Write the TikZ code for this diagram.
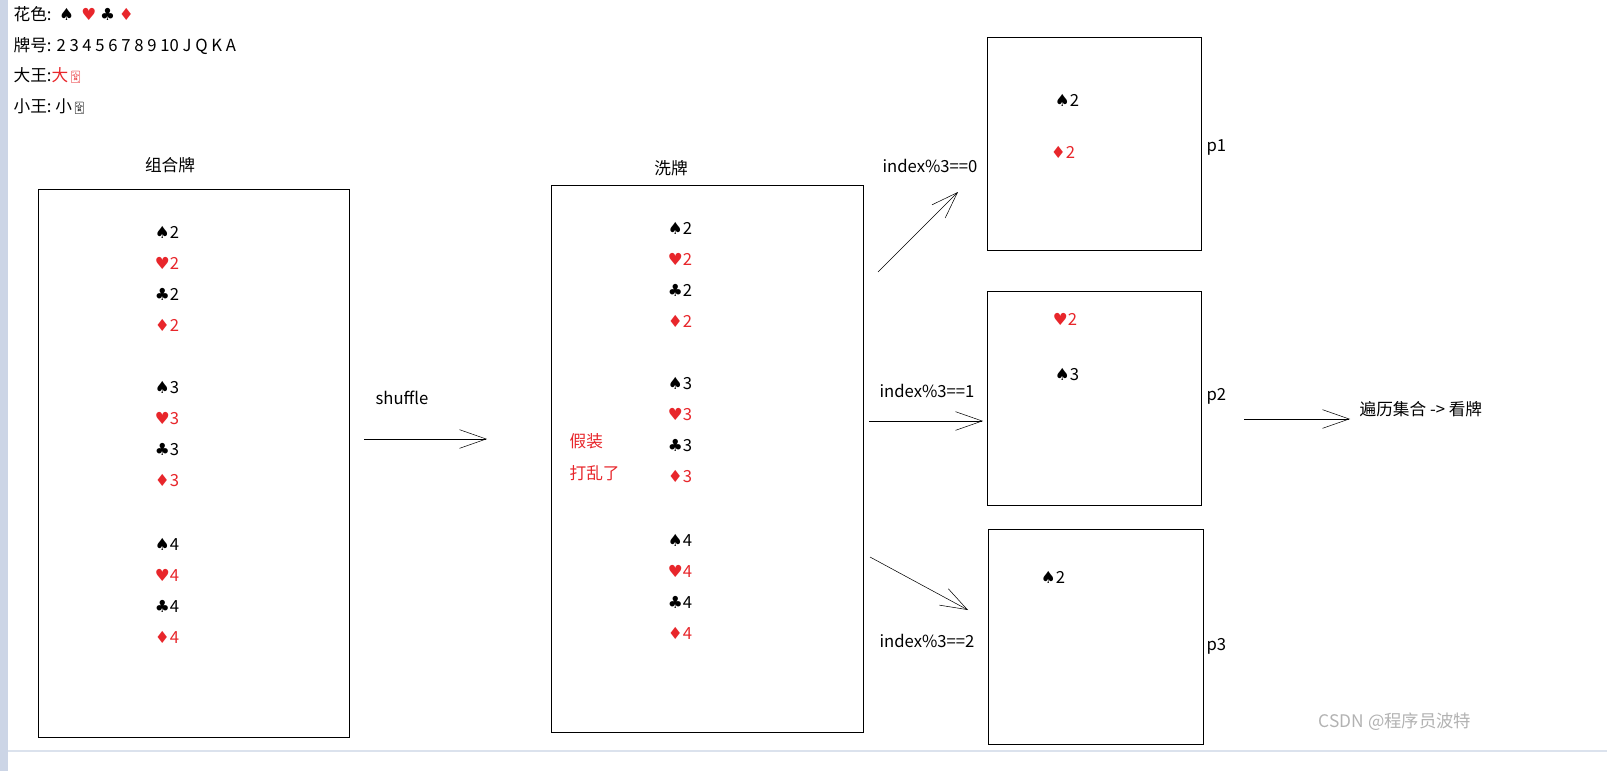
\documentclass[tikz,border=0pt]{standalone}
\usepackage{fontspec}
\setmainfont{Noto Sans CJK SC}
\newfontfamily\suitfont{DejaVu Sans}
\newfontfamily\emojifont{Noto Emoji}
\usetikzlibrary{arrows.meta,positioning}
\definecolor{cardred}{HTML}{E8262B}
\definecolor{sidebar}{HTML}{CCD5E6}
\tikzset{
    pilebox/.style = {draw=black, fill=white, thin},
    lbl/.style = {font=\fontsize{12.5}{15}\selectfont, inner sep=1pt},
    card/.style = {lbl},
    redcard/.style = {lbl, text=cardred},
    flow/.style = {-{Straight Barb[length=20pt,width=14pt]}, thin},
}
\newcommand{\spd}{{\suitfont ♠}}
\newcommand{\hrt}{{\suitfont ♥}}
\newcommand{\clb}{{\suitfont ♣}}
\newcommand{\dmd}{{\suitfont ♦}}
\begin{document}
\begin{tikzpicture}[x=0.75pt, y=-0.75pt]
\useasboundingbox (0,0) rectangle (1607,771);
\fill[sidebar] (0,0) rectangle (8,771);
\fill[sidebar!70] (8,750) rectangle (1607,752);
%------------ header ---------------------
\node[lbl, anchor=west] (suits) at (12,14) {花色:\ \ \spd\ \ {\color{cardred}\hrt}\ \clb\ {\color{cardred}\dmd}};
\node[lbl, anchor=west] (ranks) at (12,46) {牌号: 2 3 4 5 6 7 8 9 10 J Q K A};
\node[lbl, anchor=west] (bigj) at (12,76) {大王:{\color{cardred}大{\emojifont\small 🃏}}};
\node[lbl, anchor=west] (smallj) at (12,107) {小王:\ 小{\emojifont\small 🃏}};
%------------ piles ---------------------
\draw[pilebox] (38,189) rectangle (349,737);
\node[lbl] (combo) at (170,165) {组合牌};
\draw[pilebox] (551,185) rectangle (863,732);
\node[lbl] (wash) at (671,168) {洗牌};
\foreach \n/\x/\y in {0/167/232, 1/680/228} {
    \node[card] (s2\n) at (\x,\y) {\spd2};
    \node[redcard] (h2\n) at (\x,\y+31) {\hrt2};
    \node[card] (c2\n) at (\x,\y+62) {\clb2};
    \node[redcard] (d2\n) at (\x,\y+93) {\dmd2};
    \node[card] (s3\n) at (\x,\y+156) {\spd3};
    \node[redcard] (h3\n) at (\x,\y+187) {\hrt3};
    \node[card] (c3\n) at (\x,\y+218) {\clb3};
    \node[redcard] (d3\n) at (\x,\y+249) {\dmd3};
    \node[card] (s4\n) at (\x,\y+312) {\spd4};
    \node[redcard] (h4\n) at (\x,\y+343) {\hrt4};
    \node[card] (c4\n) at (\x,\y+374) {\clb4};
    \node[redcard] (d4\n) at (\x,\y+405) {\dmd4};
}
\node[redcard, anchor=west] (fake) at (568,441) {假装};
\node[redcard, anchor=west] (mess) at (568,473) {打乱了};
\node[lbl] (shuf) at (402,398) {shuffle};
\coordinate (sa) at (364,439);
\coordinate (sb) at (487,439);
\draw[flow] (sa) -- (sb);
%------------ players ---------------------
\draw[pilebox] (987,37) rectangle (1201,250);
\node[card] (p1a) at (1067,100) {\spd2};
\node[redcard] (p1b) at (1063,152) {\dmd2};
\node[lbl, anchor=west] (p1) at (1205,147) {p1};
\draw[pilebox] (987,291) rectangle (1201,505);
\node[redcard] (p2a) at (1065,319) {\hrt2};
\node[card] (p2b) at (1067,375) {\spd3};
\node[lbl, anchor=west] (p2) at (1205,396) {p2};
\draw[pilebox] (988,529) rectangle (1203,744);
\node[card] (p3a) at (1053,577) {\spd2};
\node[lbl, anchor=west] (p3) at (1205,646) {p3};
\node[lbl] (i0) at (930,166) {index\%3==0};
\node[lbl] (i1) at (927,391) {index\%3==1};
\node[lbl] (i2) at (927,641) {index\%3==2};
\coordinate (a0) at (878,272);
\coordinate (b0) at (958,192);
\coordinate (a1) at (869,421);
\coordinate (b1) at (983,421);
\coordinate (a2) at (870,557);
\coordinate (b2) at (968,610);
\draw[flow] (a0) -- (b0);
\draw[flow] (a1) -- (b1);
\draw[flow] (a2) -- (b2);
\coordinate (va) at (1244,419);
\coordinate (vb) at (1350,419);
\draw[flow] (va) -- (vb);
\node[lbl, anchor=west] (view) at (1358,409) {遍历集合 -> 看牌};
\node[lbl, text=gray!60, font=\fontsize{13}{15}\selectfont] (mark) at (1395,722) {CSDN @程序员波特};
\end{tikzpicture}
\end{document}
